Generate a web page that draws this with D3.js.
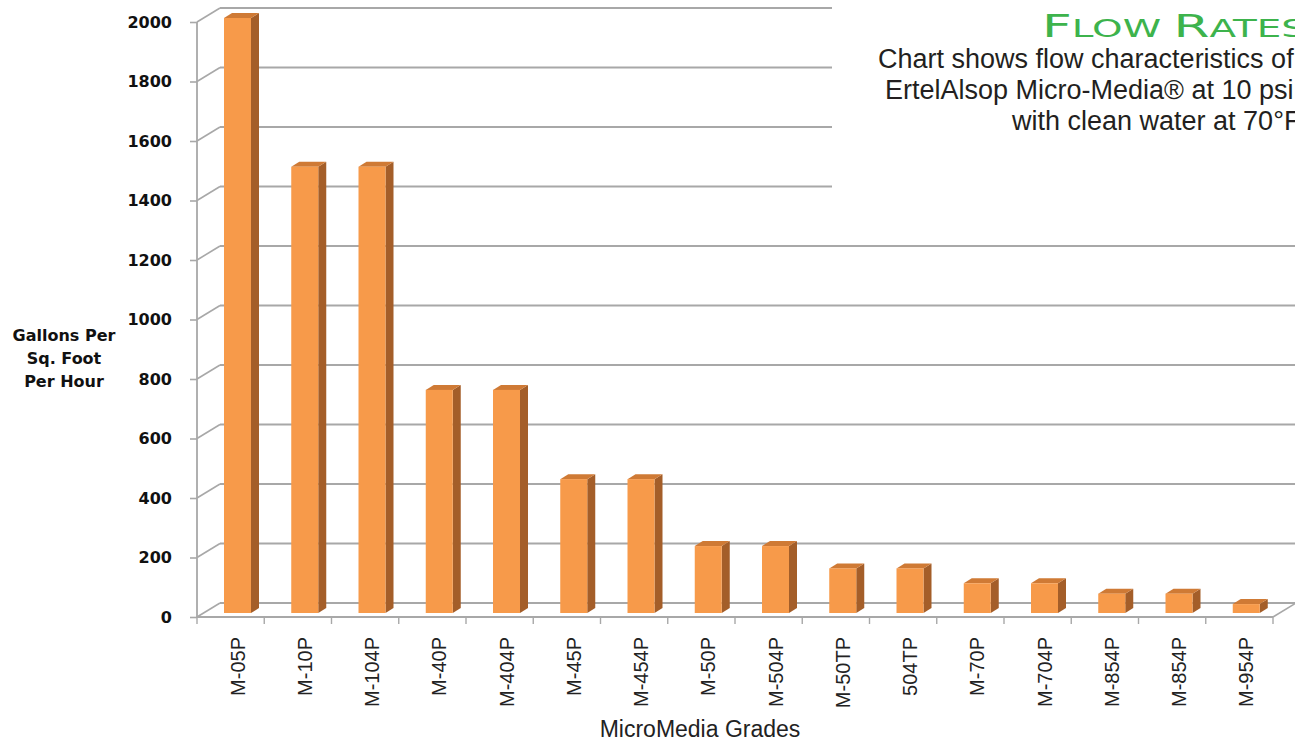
<!DOCTYPE html>
<html>
<head>
<meta charset="utf-8">
<script src="https://cdn.jsdelivr.net/npm/d3@7"></script>
<style>
  body { margin: 0; background: #fff; }
  svg { display: block; }
</style>
</head>
<body>
<svg id="chart" width="1295" height="744"></svg>
<script>
// data
var grades = ["M-05P", "M-10P", "M-104P", "M-40P", "M-404P", "M-45P", "M-454P", "M-50P",
              "M-504P", "M-50TP", "504TP", "M-70P", "M-704P", "M-854P", "M-854P", "M-954P"];
var flow = [2000, 1500, 1500, 750, 750, 450, 450, 225, 225, 150, 150, 100, 100, 65, 65, 30];
var yTicks = [0, 200, 400, 600, 800, 1000, 1200, 1400, 1600, 1800, 2000];
var yTitle = ["Gallons Per", "Sq. Foot", "Per Hour"];
var subtitle = ["Chart shows flow characteristics of",
                "ErtelAlsop Micro-Media\u00ae at 10 psi",
                "with clean water at 70\u00b0F"];

var svg = d3.select("#chart");
var W = 1295;

// front plane of the 3d box, back wall is shifted by depth
var depth = {dx: 23, dy: -14};
var y = d3.scaleLinear().domain([0, 2000]).range([617, 22]);
var x = d3.scaleBand().domain(d3.range(grades.length)).range([197, 1273]).paddingInner(0);

var gridColor = "#a8a8a8";

// back wall gridlines
svg.append("g").selectAll("line.grid")
  .data(yTicks)
  .enter().append("line")
  .attr("class", "grid")
  .attr("x1", 197 + depth.dx)
  .attr("x2", W)
  .attr("y1", function(d){ return y(d) + depth.dy; })
  .attr("y2", function(d){ return y(d) + depth.dy; })
  .style("stroke", gridColor)
  .style("stroke-width", 1.8);

// diagonals from the front axis to the wall
svg.append("g").selectAll("line.diag")
  .data(yTicks)
  .enter().append("line")
  .attr("x1", 197).attr("y1", function(d){ return y(d); })
  .attr("x2", 197 + depth.dx).attr("y2", function(d){ return y(d) + depth.dy; })
  .style("stroke", gridColor)
  .style("stroke-width", 1.6);

// white box behind the title covers upper gridlines
svg.append("rect")
  .attr("x", 832).attr("y", 0)
  .attr("width", W - 832).attr("height", 215)
  .attr("fill", "#fff");

// front y axis
var yAxis = d3.axisLeft(y).tickValues(yTicks).tickSize(7).tickPadding(18).tickFormat(d3.format("d"));
var ya = svg.append("g").attr("transform", "translate(197,0)").call(yAxis);
ya.select(".domain").style("stroke", gridColor).style("stroke-width", 1.8).attr("d", "M0," + y(2000) + "V" + y(0));
ya.selectAll(".tick line").style("stroke", gridColor).style("stroke-width", 1.6);
ya.selectAll(".tick text")
  .style("font-family", "'DejaVu Sans', Verdana, sans-serif")
  .style("font-weight", "bold")
  .style("font-size", "16px")
  .style("fill", "#111");

// floor front edge + right diagonal
svg.append("line")
  .attr("x1", 197).attr("x2", 1273)
  .attr("y1", y(0)).attr("y2", y(0))
  .style("stroke", gridColor).style("stroke-width", 1.8);
svg.append("line")
  .attr("x1", 1273).attr("y1", y(0))
  .attr("x2", 1273 + depth.dx).attr("y2", y(0) + depth.dy)
  .style("stroke", gridColor).style("stroke-width", 1.6);

// category ticks on the floor edge
svg.append("g").selectAll("line.xt")
  .data(d3.range(grades.length + 1))
  .enter().append("line")
  .attr("x1", function(i){ return i < grades.length ? x(i) : 1273; })
  .attr("x2", function(i){ return i < grades.length ? x(i) : 1273; })
  .attr("y1", y(0)).attr("y2", y(0) + 7)
  .style("stroke", gridColor).style("stroke-width", 1.4);

// bars: front face, side, top
var barOff = 27, barW = 27, sideW = 8, capH = 5, floorShift = -4;
var bars = svg.append("g").selectAll("g.bar")
  .data(flow)
  .enter().append("g")
  .attr("class", "bar");

bars.append("path")
  .attr("fill", "#a45e29")
  .attr("d", function(d, i){
    var x0 = x(i) + barOff + barW, yt = y(d) + floorShift, yb = y(0) + floorShift;
    return "M" + x0 + "," + yb + "L" + x0 + "," + yt + "L" + (x0 + sideW) + "," + (yt - capH) +
           "L" + (x0 + sideW) + "," + (yb - capH) + "Z";
  });
bars.append("path")
  .attr("fill", "#cf7a35")
  .attr("d", function(d, i){
    var x0 = x(i) + barOff, yt = y(d) + floorShift;
    return "M" + x0 + "," + yt + "L" + (x0 + barW) + "," + yt + "L" + (x0 + barW + sideW) + "," + (yt - capH) +
           "L" + (x0 + sideW) + "," + (yt - capH) + "Z";
  });
bars.append("rect")
  .attr("fill", "#f79a4a")
  .attr("x", function(d, i){ return x(i) + barOff; })
  .attr("width", barW)
  .attr("y", function(d){ return y(d) + floorShift; })
  .attr("height", function(d){ return y(0) - y(d); });

// category labels, rotated
svg.append("g").selectAll("text.cat")
  .data(grades)
  .enter().append("text")
  .attr("class", "cat")
  .attr("transform", function(d, i){ return "translate(" + (x(i) + barOff + barW / 2 + 7) + ",637) rotate(-90)"; })
  .attr("text-anchor", "end")
  .style("font-family", "'Liberation Sans', Arial, sans-serif")
  .style("font-size", "20px")
  .style("fill", "#222")
  .text(function(d){ return d; });

svg.append("text")
  .attr("x", 700).attr("y", 737)
  .attr("text-anchor", "middle")
  .style("font-family", "'Liberation Sans', Arial, sans-serif")
  .style("font-size", "23px")
  .style("fill", "#222")
  .text("MicroMedia Grades");

// y title
svg.append("g").selectAll("text.yt")
  .data(yTitle)
  .enter().append("text")
  .attr("x", 64)
  .attr("y", function(d, i){ return 341 + i * 23; })
  .attr("text-anchor", "middle")
  .style("font-family", "'DejaVu Sans', Verdana, sans-serif")
  .style("font-weight", "bold")
  .style("font-size", "16px")
  .style("fill", "#111")
  .text(function(d){ return d; });

// title in small caps, stretched to look like Copperplate
var title = svg.append("text")
  .attr("transform", "translate(1042,37) scale(1.62,1)")
  .style("font-family", "'DejaVu Sans', sans-serif")
  .style("fill", "#3db34c");
title.append("tspan").style("font-size", "32px").text("F");
title.append("tspan").style("font-size", "24px").text("LOW ");
title.append("tspan").style("font-size", "32px").text("R");
title.append("tspan").style("font-size", "24px").text("ATES");

var subX = [878, 885, 1012];
svg.append("g").selectAll("text.sub")
  .data(subtitle)
  .enter().append("text")
  .attr("x", function(d, i){ return subX[i]; })
  .attr("y", function(d, i){ return 68 + i * 31; })
  .style("font-family", "'Liberation Sans', Arial, sans-serif")
  .style("font-size", "27px")
  .style("fill", "#231f20")
  .text(function(d){ return d; });
</script>
</body>
</html>
